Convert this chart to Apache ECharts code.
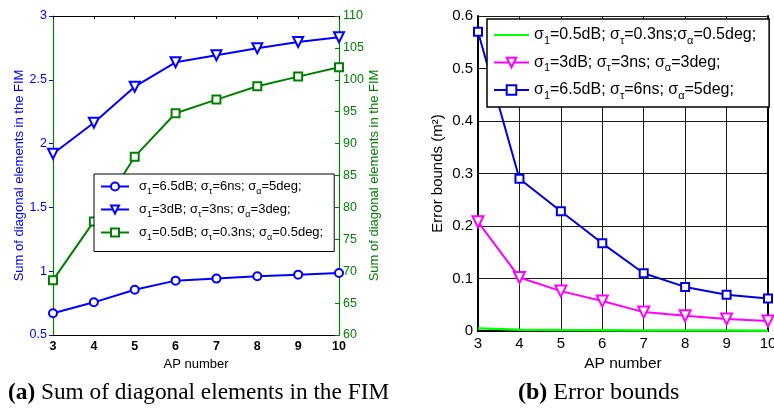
<!DOCTYPE html>
<html>
<head>
<meta charset="utf-8">
<script src="https://cdn.jsdelivr.net/npm/echarts@6/dist/echarts.min.js"></script>
<style>
html,body{margin:0;padding:0;background:#fff;}
#c{width:774px;height:409px;}
</style>
</head>
<body>
<div id="c"></div>
<script>
// ---- data ----
const apNumbers = [3, 4, 5, 6, 7, 8, 9, 10];
// (a) Sum of diagonal elements in the FIM
const fimSigma65 = [0.67, 0.756, 0.855, 0.926, 0.942, 0.96, 0.973, 0.986];   // left axis
const fimSigma3  = [1.92, 2.164, 2.446, 2.637, 2.692, 2.747, 2.796, 2.833];  // left axis
const fimSigma05 = [68.6, 77.8, 87.95, 94.75, 96.9, 99.0, 100.5, 101.96];   // right axis
// (b) Error bounds
const errSigma05 = [0.005, 0.0025, 0.0018, 0.0014, 0.0011, 0.0009, 0.0008, 0.0007];
const errSigma3  = [0.208, 0.102, 0.076, 0.057, 0.036, 0.029, 0.023, 0.019];
const errSigma65 = [0.57, 0.29, 0.228, 0.167, 0.11, 0.084, 0.069, 0.062];
// axis ticks
const xTicks = [3, 4, 5, 6, 7, 8, 9, 10];
const fimLeftTicks = [0.5, 1, 1.5, 2, 2.5, 3];
const fimRightTicks = [60, 65, 70, 75, 80, 85, 90, 95, 100, 105, 110];
const errTicks = [0, 0.1, 0.2, 0.3, 0.4, 0.5, 0.6];

const legendParts = {
  L65: [['σ','1'],['=6.5dB; σ','τ'],['=6ns; σ','α'],['=5deg;','']],
  L3:  [['σ','1'],['=3dB; σ','τ'],['=3ns; σ','α'],['=3deg;','']],
  L05: [['σ','1'],['=0.5dB; σ','τ'],['=0.3ns; σ','α'],['=0.5deg;','']],
  R05: [['σ','1'],['=0.5dB; σ','τ'],['=0.3ns;σ','α'],['=0.5deg;','']],
  R3:  [['σ','1'],['=3dB; σ','τ'],['=3ns; σ','α'],['=3deg;','']],
  R65: [['σ','1'],['=6.5dB; σ','τ'],['=6ns; σ','α'],['=5deg;','']]
};
function fmt(name){
  return legendParts[name].map(p => '{m|' + p[0] + '}' + (p[1] ? '{s|' + p[1] + '}' : '')).join('');
}
function pairs(ys){ return apNumbers.map((x,i)=>[x, ys[i]]); }

const FONT = '"Liberation Sans", Arial, sans-serif';
const SERIF = '"Liberation Serif", "Times New Roman", serif';
const BLUE = '#0000ff', DGREEN = '#008000';

const chart = echarts.init(document.getElementById('c'), null, {renderer:'canvas'});
const option = {
  animation: false,
  backgroundColor: '#fff',
  textStyle: {fontFamily: FONT},
  grid: [
    {left: 53, right: 435, top: 16, bottom: 74, containLabel:false, outerBoundsMode:'none'},
    {left: 478, right: 6, top: 16, bottom: 78, containLabel:false, outerBoundsMode:'none'}
  ],
  xAxis: [
    {gridIndex:0, type:'value', position:'bottom', min:xTicks[0], max:xTicks[xTicks.length-1], interval:1,
     axisLine:{lineStyle:{color:'#000', width:1}}, axisTick:{show:false},
     axisLabel:{color:'#000', fontSize:12.5, fontWeight:'bold', margin:5, fontFamily:FONT},
     splitLine:{show:false},
     name:'AP number', nameLocation:'middle', nameGap:18, nameTextStyle:{color:'#000', fontSize:13, fontFamily:FONT}},
    {gridIndex:0, type:'value', position:'top', min:xTicks[0], max:xTicks[xTicks.length-1], interval:1,
     axisLine:{lineStyle:{color:'#000', width:1}}, axisTick:{show:true, inside:true, length:3, lineStyle:{color:'#000'}},
     axisLabel:{show:false}, splitLine:{show:false}},
    {gridIndex:1, type:'value', position:'bottom', min:xTicks[0], max:xTicks[xTicks.length-1], interval:1,
     axisLine:{lineStyle:{color:'#000', width:2}}, axisTick:{show:false},
     axisLabel:{color:'#000', fontSize:15, margin:5, fontFamily:FONT, hideOverlap:false},
     splitLine:{show:true, lineStyle:{color:'#1a1a1a', width:1}},
     name:'AP number', nameLocation:'middle', nameGap:21, nameTextStyle:{color:'#000', fontSize:15.5, fontFamily:FONT}},
    {gridIndex:1, type:'value', position:'top', min:xTicks[0], max:xTicks[xTicks.length-1], interval:1,
     axisLine:{lineStyle:{color:'#000', width:1}}, axisTick:{show:false}, axisLabel:{show:false}, splitLine:{show:false}}
  ],
  yAxis: [
    {gridIndex:0, type:'value', position:'left', min:fimLeftTicks[0], max:fimLeftTicks[fimLeftTicks.length-1], interval:0.5,
     axisLine:{show:true, lineStyle:{color:DGREEN, width:1.2}}, axisTick:{show:true, length:4, lineStyle:{color:BLUE}},
     axisLabel:{color:BLUE, fontSize:12.5, margin:6, fontFamily:FONT}, splitLine:{show:false},
     name:'Sum of diagonal elements in the FIM', nameLocation:'middle', nameRotate:90, nameGap:24,
     nameTextStyle:{color:BLUE, fontSize:13, fontFamily:FONT}},
    {gridIndex:0, type:'value', position:'right', min:fimRightTicks[0], max:fimRightTicks[fimRightTicks.length-1], interval:5,
     axisLine:{show:true, lineStyle:{color:DGREEN, width:1.2}}, axisTick:{show:true, inside:true, length:4, lineStyle:{color:DGREEN}},
     axisLabel:{color:DGREEN, fontSize:12.5, margin:4, fontFamily:FONT}, splitLine:{show:false},
     name:'Sum of diagonal elements in the FIM', nameLocation:'middle', nameRotate:90, nameGap:24,
     nameTextStyle:{color:DGREEN, fontSize:13, fontFamily:FONT}},
    {gridIndex:1, type:'value', position:'left', min:errTicks[0], max:errTicks[errTicks.length-1], interval:0.1,
     axisLine:{show:true, lineStyle:{color:'#000', width:2}}, axisTick:{show:false},
     axisLabel:{color:'#000', fontSize:15, margin:5, fontFamily:FONT},
     splitLine:{show:true, lineStyle:{color:'#1a1a1a', width:1}},
     name:'Error bounds (m²)', nameLocation:'middle', nameRotate:90, nameGap:33,
     nameTextStyle:{color:'#000', fontSize:15, fontFamily:FONT}},
    {gridIndex:1, type:'value', position:'right', min:errTicks[0], max:errTicks[errTicks.length-1], interval:0.1,
     axisLine:{show:true, lineStyle:{color:'#000', width:2}}, axisTick:{show:false}, axisLabel:{show:false}, splitLine:{show:false}}
  ],
  legend: [
    {data:['L65','L3','L05'], orient:'vertical', left:94, top:174, padding:[6,11,9,6],
     itemWidth:28, itemHeight:10, itemGap:6.5, backgroundColor:'#fff', borderColor:'#000', borderWidth:1,
     formatter: fmt, selectedMode:false,
     textStyle:{padding:[0,0,0,5], rich:{
       m:{fontSize:13, fontFamily:FONT, color:'#000', lineHeight:20},
       s:{fontSize:9, fontFamily:FONT, color:'#000', lineHeight:9, verticalAlign:'bottom'}}}},
    {data:[{name:'R05', itemStyle:{opacity:0}}, 'R3', 'R65'], orient:'vertical', left:487, top:19, padding:[8,13,6,6],
     itemWidth:35, itemHeight:12, itemGap:8.5, backgroundColor:'#fff', borderColor:'#000', borderWidth:1.5,
     formatter: fmt, selectedMode:false,
     textStyle:{rich:{
       m:{fontSize:16, fontFamily:FONT, color:'#000', lineHeight:22},
       s:{fontSize:11, fontFamily:FONT, color:'#000', lineHeight:11, verticalAlign:'bottom'}}}}
  ],
  series: [
    {name:'L65', type:'line', xAxisIndex:0, yAxisIndex:0, data:pairs(fimSigma65),
     symbol:'emptyCircle', symbolSize:8, lineStyle:{color:BLUE, width:2}, itemStyle:{color:BLUE, borderWidth:1.5}},
    {name:'L3', type:'line', xAxisIndex:0, yAxisIndex:0, data:pairs(fimSigma3),
     symbol:'emptyTriangle', symbolRotate:180, symbolSize:10, lineStyle:{color:BLUE, width:2}, itemStyle:{color:BLUE, borderWidth:2}},
    {name:'L05', type:'line', xAxisIndex:0, yAxisIndex:1, data:pairs(fimSigma05),
     symbol:'emptyRect', symbolSize:8, lineStyle:{color:DGREEN, width:2}, itemStyle:{color:DGREEN, borderWidth:1.5}},
    {name:'R05', type:'line', xAxisIndex:2, yAxisIndex:2, data:pairs(errSigma05),
     symbol:'none', showSymbol:false, lineStyle:{color:'#00ff00', width:2.5}, itemStyle:{color:'#00ff00'}},
    {name:'R3', type:'line', xAxisIndex:2, yAxisIndex:2, data:pairs(errSigma3),
     symbol:'emptyTriangle', symbolRotate:180, symbolSize:11, lineStyle:{color:'#ff00ff', width:2}, itemStyle:{color:'#ff00ff', borderWidth:2}},
    {name:'R65', type:'line', xAxisIndex:2, yAxisIndex:2, data:pairs(errSigma65),
     symbol:'emptyRect', symbolSize:8, lineStyle:{color:'#0000dd', width:2}, itemStyle:{color:'#0000dd', borderWidth:2}}
  ],
  graphic: [
    {type:'text', left:8, top:381, style:{
      text:'{b|(a)}{n| Sum of diagonal elements in the FIM}',
      rich:{b:{fontFamily:SERIF, fontSize:23.3, fontWeight:'bold', fill:'#000'},
            n:{fontFamily:SERIF, fontSize:23.3, fill:'#000'}}}},
    {type:'text', left:518, top:381, style:{
      text:'{b|(b)}{n| Error bounds}',
      rich:{b:{fontFamily:SERIF, fontSize:24, fontWeight:'bold', fill:'#000'},
            n:{fontFamily:SERIF, fontSize:24, fill:'#000'}}}}
  ]
};
chart.setOption(option);
</script>
</body>
</html>
